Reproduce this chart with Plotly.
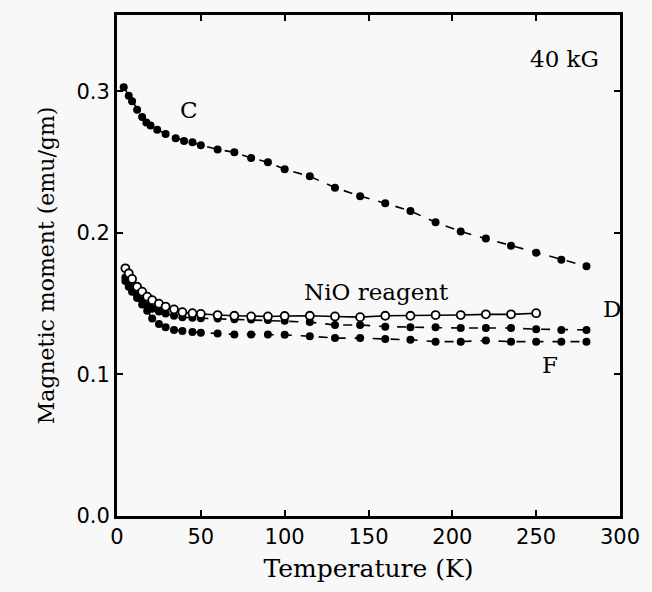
import plotly.graph_objects as go

# Sample C
c_T = [4, 7, 9, 12, 15, 17.5, 20, 24, 29, 35, 40, 45, 50, 60, 70, 80, 90, 100,
       115, 130, 145, 160, 175, 190, 205, 220, 235, 250, 265, 280]
c_M = [0.303, 0.297, 0.293, 0.287, 0.282, 0.278, 0.276, 0.273, 0.270, 0.267,
       0.265, 0.264, 0.262, 0.259, 0.257, 0.253, 0.250, 0.245, 0.240, 0.232,
       0.226, 0.221, 0.2155, 0.2075, 0.201, 0.196, 0.191, 0.186, 0.181, 0.1765]

# NiO reagent (open circles)
nio_T = [5, 7, 9, 12, 15, 18, 21, 25, 29, 34, 39, 45, 50, 60, 70, 80, 90, 100,
         115, 130, 145, 160, 175, 190, 205, 220, 235, 250]
nio_M = [0.175, 0.1715, 0.1675, 0.162, 0.1585, 0.155, 0.1525, 0.150, 0.148,
         0.146, 0.144, 0.1433, 0.1428, 0.142, 0.1415, 0.141, 0.141, 0.1413,
         0.1415, 0.141, 0.1405, 0.1415, 0.1415, 0.142, 0.142, 0.1425, 0.1425,
         0.1433]

# Sample D
d_T = [5, 7, 9, 12, 15, 18, 21, 25, 29, 34, 39, 45, 50, 60, 70, 80, 90, 100,
       115, 130, 145, 160, 175, 190, 205, 220, 235, 250, 265, 280]
d_M = [0.1685, 0.165, 0.161, 0.156, 0.1525, 0.149, 0.1465, 0.1445, 0.143,
       0.1415, 0.1405, 0.140, 0.1398, 0.1395, 0.139, 0.1388, 0.1385, 0.138,
       0.137, 0.135, 0.135, 0.1338, 0.1333, 0.1333, 0.1328, 0.1328, 0.1328,
       0.132, 0.1315, 0.1315]

# Sample F
f_T = [5, 7, 9, 12, 15, 18, 21, 25, 29, 34, 39, 45, 50, 60, 70, 80, 90, 100,
       115, 130, 145, 160, 175, 190, 205, 220, 235, 250, 265, 280]
f_M = [0.166, 0.162, 0.1585, 0.154, 0.1495, 0.145, 0.1395, 0.1357, 0.1333,
       0.1315, 0.1307, 0.130, 0.1295, 0.129, 0.1283, 0.1283, 0.1283, 0.128,
       0.127, 0.1257, 0.1257, 0.125, 0.1245, 0.1232, 0.1232, 0.124, 0.1232,
       0.1232, 0.1232, 0.1232]

x_ticks = [0, 50, 100, 150, 200, 250, 300]
y_ticks = [0.0, 0.1, 0.2, 0.3]
y_tick_text = ["0.0", "0.1", "0.2", "0.3"]

fig = go.Figure()

filled = dict(symbol="circle", size=8, color="black")
fig.add_trace(go.Scatter(x=c_T, y=c_M, mode="lines+markers",
                         line=dict(color="black", width=1.6, dash="dash"),
                         marker=filled, name="C"))
fig.add_trace(go.Scatter(x=f_T, y=f_M, mode="lines+markers",
                         line=dict(color="black", width=1.6, dash="dash"),
                         marker=filled, name="F"))
fig.add_trace(go.Scatter(x=d_T, y=d_M, mode="lines+markers",
                         line=dict(color="black", width=1.6, dash="dash"),
                         marker=filled, name="D"))
fig.add_trace(go.Scatter(x=nio_T, y=nio_M, mode="lines+markers",
                         line=dict(color="black", width=1.6),
                         marker=dict(symbol="circle", size=8, color="white",
                                     line=dict(color="black", width=1.8)),
                         name="NiO reagent"))

label_font = dict(family="DejaVu Serif", size=23, color="black")
annots = [
    dict(x=267, y=0.323, text="40 kG"),
    dict(x=43, y=0.287, text="C"),
    dict(x=155, y=0.158, text="NiO reagent"),
    dict(x=295, y=0.146, text="D"),
    dict(x=258, y=0.107, text="F"),
]
for a in annots:
    fig.add_annotation(x=a["x"], y=a["y"], text=a["text"], showarrow=False,
                       font=label_font, xanchor="center", yanchor="middle")

axis_common = dict(showline=True, linecolor="black", linewidth=2.8,
                   mirror="ticks", ticks="inside", ticklen=6, tickwidth=1.5,
                   tickcolor="black", showgrid=False, zeroline=False,
                   tickfont=dict(family="DejaVu Sans", size=21, color="black"))

fig.update_layout(
    width=652, height=592,
    margin=dict(l=117, r=26, t=13, b=76),
    paper_bgcolor="#f8f8f8", plot_bgcolor="#f8f8f8",
    showlegend=False,
    xaxis=dict(range=[0, 300], tickvals=x_ticks,
               title=dict(text="Temperature (K)", standoff=12,
                          font=dict(family="DejaVu Serif", size=25, color="black")),
               **axis_common),
    yaxis=dict(range=[0, 0.354], tickvals=y_ticks, ticktext=y_tick_text,
               title=dict(text="Magnetic moment (emu/gm)", standoff=16,
                          font=dict(family="DejaVu Serif", size=22, color="black")),
               **axis_common),
)

fig.write_html("out.html",
               config={"displayModeBar": False},
               post_script="document.body.style.margin='0';"
                           "document.body.style.background='#f8f8f8';")
